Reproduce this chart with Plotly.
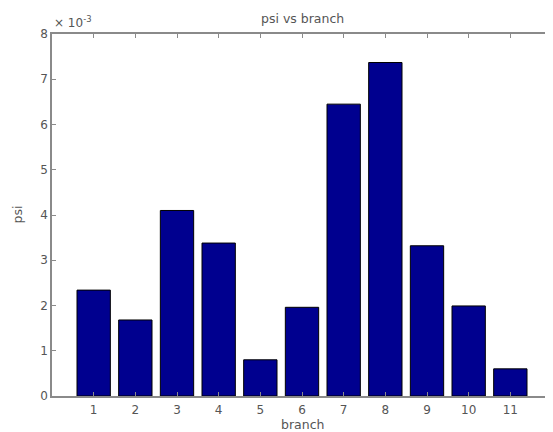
import plotly.graph_objects as go

branches = [1, 2, 3, 4, 5, 6, 7, 8, 9, 10, 11]
psi = [0.00234, 0.00168, 0.00410, 0.00338, 0.00080, 0.00196,
       0.00645, 0.00737, 0.00332, 0.00199, 0.00060]
y_ticks = [0, 1, 2, 3, 4, 5, 6, 7, 8]

FONT = dict(family="DejaVu Sans, Arial", size=12, color="#555555")
FONT_T = dict(family="DejaVu Sans, Arial", size=12.5, color="#555555")

# page body has an 8px default margin; margins below compensate for it
fig = go.Figure()
fig.add_trace(go.Bar(
    x=branches, y=psi, width=0.8,
    marker=dict(color="#00008f", line=dict(color="#000000", width=1)),
))

axis_common = dict(
    showline=True, linecolor="#8a8a8a", linewidth=1.5, mirror="ticks",
    ticks="inside", ticklen=4, tickcolor="#8a8a8a", showgrid=False, zeroline=False,
    tickfont=FONT, automargin=False,
)

fig.update_layout(
    width=553, height=432,
    margin=dict(l=44, r=9, t=26, b=44, autoexpand=False),
    paper_bgcolor="white", plot_bgcolor="white",
    showlegend=False,
    xaxis=dict(range=[0, 12], tickvals=branches, ticktext=[str(b) for b in branches],
               ticklabelstandoff=2, **axis_common),
    yaxis=dict(range=[0, 0.008], tickvals=[t * 1e-3 for t in y_ticks],
               ticktext=[str(t) for t in y_ticks], ticklabelstandoff=0, **axis_common),
)
fig.add_annotation(text="psi vs branch", xref="paper", yref="paper", x=0.5, y=1.0,
                   xanchor="center", yanchor="bottom", yshift=6, showarrow=False, font=FONT_T)
fig.add_annotation(text="branch", xref="paper", yref="paper", x=0.5, y=0.0,
                   xanchor="center", yanchor="top", yshift=-19, showarrow=False, font=FONT_T)
fig.add_annotation(text="psi", xref="paper", yref="paper", x=0.0, y=0.5, textangle=-90,
                   xanchor="right", yanchor="middle", xshift=-26, showarrow=False, font=FONT_T)
fig.add_annotation(
    text="× 10<sup>-3</sup>", xref="paper", yref="paper", x=0.0, y=1.0,
    xanchor="left", yanchor="bottom", showarrow=False, yshift=2,
    font=FONT,
)

fig.write_html("out.html")
